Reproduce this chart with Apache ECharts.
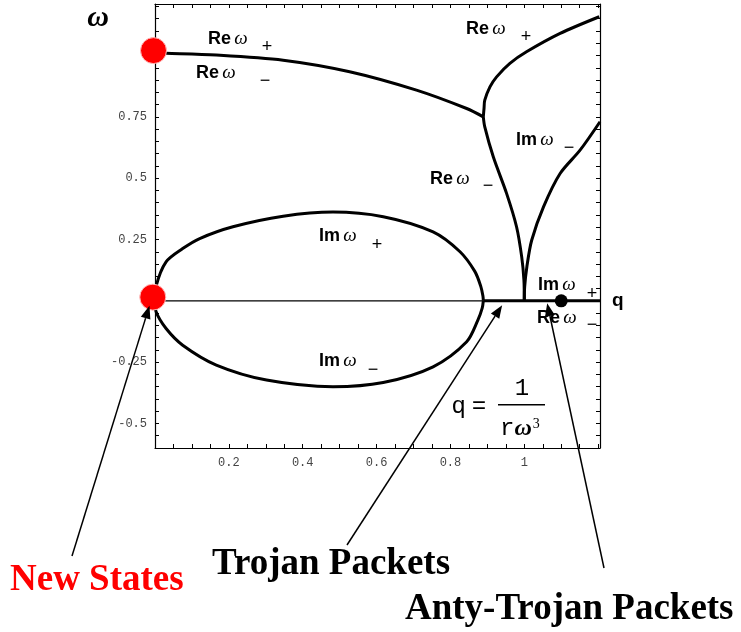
<!DOCTYPE html>
<html>
<head>
<meta charset="utf-8">
<script src="https://cdn.jsdelivr.net/npm/echarts@6/dist/echarts.min.js"></script>
<style>
html, body { margin: 0; padding: 0; background: #fff; }
#chart { width: 741px; height: 632px; }
</style>
</head>
<body>
<div id="chart"></div>
<script>
// Re omega, both roots equal below the bifurcation at q = 8/9
const reShared = [[0, 1.01], [0.03, 1.009], [0.166, 1.002], [0.347, 0.981], [0.527, 0.934], [0.708, 0.859], [0.844, 0.784], [0.889, 0.75]];
const rePlus = [[0.889, 0.75], [0.891, 0.785], [0.893, 0.818], [0.907, 0.872], [0.925, 0.913], [0.961, 0.968], [1.006, 1.015], [1.097, 1.09], [1.203, 1.158]];
const reMinus = [[0.889, 0.75], [0.893, 0.709], [0.916, 0.587], [0.952, 0.438], [0.979, 0.302], [0.993, 0.179], [0.999, 0.084], [1.0, 0]];
const imMinusRight = [[1.0, 0], [1.001, 0.057], [1.007, 0.139], [1.02, 0.247], [1.052, 0.383], [1.097, 0.519], [1.151, 0.614], [1.205, 0.73]];
const imPlusLoop = [[0, 0], [0.003, 0.06], [0.03, 0.159], [0.075, 0.213], [0.121, 0.254], [0.211, 0.302], [0.347, 0.345], [0.482, 0.362], [0.618, 0.343], [0.753, 0.281], [0.826, 0.2], [0.866, 0.12], [0.882, 0.06], [0.888, 0.02], [0.889, 0]];
const imMinusLoop = [[0, 0], [0.003, -0.045], [0.03, -0.113], [0.075, -0.181], [0.166, -0.262], [0.302, -0.323], [0.482, -0.35], [0.618, -0.333], [0.753, -0.269], [0.844, -0.167], [0.874, -0.08], [0.886, -0.03], [0.889, 0]];
const zeroThin = [[0, 0], [0.889, 0]];
const zeroThick = [[0.889, 0], [1.205, 0]];
const newStates = [[-0.004, 1.02], [-0.006, 0.015]];
const antiTrojan = [[1.1, 0]];
const xTickLabels = [0.2, 0.4, 0.6, 0.8, 1];
const yTickLabels = [-0.5, -0.25, 0.25, 0.5, 0.75];

const chart = echarts.init(document.getElementById('chart'));

function pickLabel(list) {
    return function (v) {
        for (const t of list) {
            if (Math.abs(v - t) < 1e-6) return String(t);
        }
        return '';
    };
}

const tickFont = { fontFamily: 'Liberation Mono', fontSize: 12, color: '#444' };
const frameLine = { show: true, onZero: false, lineStyle: { color: '#000', width: 1.2 } };
const innerTick = { show: true, inside: true, length: 4, lineStyle: { color: '#000' } };

function curve(data, width) {
    return {
        type: 'line', data: data, showSymbol: false, smooth: 0.3,
        lineStyle: { color: '#000', width: width || 3 }, z: 3, silent: true
    };
}

const option = {
    animation: false,
    grid: { left: 155, right: 141, top: 4, bottom: 184 },
    xAxis: [
        {
            type: 'value', min: 0, max: 1.205, interval: 0.05, position: 'bottom',
            axisLine: frameLine, axisTick: innerTick, splitLine: { show: false },
            axisLabel: Object.assign({ margin: 9, formatter: pickLabel(xTickLabels) }, tickFont)
        },
        {
            type: 'value', min: 0, max: 1.205, interval: 0.05, position: 'top',
            axisLine: frameLine, axisTick: innerTick, splitLine: { show: false },
            axisLabel: { show: false }
        }
    ],
    yAxis: [
        {
            type: 'value', min: -0.6, max: 1.21, interval: 0.05, position: 'left',
            axisLine: frameLine, axisTick: innerTick, splitLine: { show: false },
            axisLabel: Object.assign({ margin: 8, formatter: pickLabel(yTickLabels) }, tickFont)
        },
        {
            type: 'value', min: -0.6, max: 1.21, interval: 0.05, position: 'right',
            axisLine: frameLine, axisTick: innerTick, splitLine: { show: false },
            axisLabel: { show: false }
        }
    ],
    series: [
        curve(zeroThin, 1.3),
        curve(zeroThick, 3),
        curve(reShared),
        curve(rePlus),
        curve(reMinus),
        curve(imMinusRight),
        curve(imPlusLoop),
        curve(imMinusLoop),
        {
            type: 'scatter', data: antiTrojan, symbolSize: 13, clip: false, z: 5,
            itemStyle: { color: '#000', opacity: 1 }
        },
        {
            type: 'scatter', data: newStates, symbolSize: 26, clip: false, z: 6,
            itemStyle: { color: '#ff0000', opacity: 1, borderColor: '#ffb8b8', borderWidth: 1 }
        }
    ]
};
option && chart.setOption(option);

/* annotations */
const rich = {
    b: { fontFamily: 'Liberation Sans', fontWeight: 'bold', fontSize: 18, fill: '#000' },
    w: { fontFamily: 'Liberation Serif', fontStyle: 'italic', fontSize: 19, fill: '#000' }
};

function omegaLabel(part, x, y, sign, sx, sy) {
    return [
        { type: 'text', z: 10, style: { x: x, y: y, text: '{b|' + part + '} {w|ω}', rich: rich, verticalAlign: 'middle' } },
        { type: 'text', z: 10, style: { x: sx, y: sy, text: sign, fontFamily: 'Liberation Sans', fontSize: 18, fill: '#000', align: 'center', verticalAlign: 'middle' } }
    ];
}

function arrow(tail, tipData) {
    const tip = chart.convertToPixel({ gridIndex: 0 }, tipData);
    const dx = tip[0] - tail[0], dy = tip[1] - tail[1];
    const len = Math.sqrt(dx * dx + dy * dy);
    const ux = dx / len, uy = dy / len;
    const head = 13, half = 5;
    const bx = tip[0] - ux * head, by = tip[1] - uy * head;
    return [
        { type: 'line', z: 9, shape: { x1: tail[0], y1: tail[1], x2: bx, y2: by }, style: { stroke: '#000', lineWidth: 1.5 } },
        { type: 'polygon', z: 9, shape: { points: [[tip[0], tip[1]], [bx - uy * half, by + ux * half], [bx + uy * half, by - ux * half]] }, style: { fill: '#000' } }
    ];
}

const big = { fontFamily: 'Liberation Serif', fontWeight: 'bold', fontSize: 37, verticalAlign: 'middle' };

const graphic = [].concat(
    omegaLabel('Re', 208, 39, '+', 267, 47),
    omegaLabel('Re', 196, 73, '−', 265, 81),
    omegaLabel('Re', 466, 29, '+', 526, 37),
    omegaLabel('Im', 516, 140, '−', 569, 148),
    omegaLabel('Re', 430, 179, '−', 488, 186),
    omegaLabel('Im', 319, 236, '+', 377, 245),
    omegaLabel('Im', 319, 361, '−', 373, 370),
    omegaLabel('Im', 538, 285, '+', 592, 294),
    omegaLabel('Re', 537, 318, '−', 592, 325),
    arrow([72, 556], [-0.015, -0.02]),
    arrow([347, 545], [0.94, -0.018]),
    arrow([604, 568], [1.062, -0.01]),
    [
        { type: 'text', z: 10, style: { x: 612, y: 301, text: 'q', fontFamily: 'Liberation Sans', fontWeight: 'bold', fontSize: 19, fill: '#000', verticalAlign: 'middle' } },
        { type: 'text', z: 10, style: { x: 98, y: 18, text: 'ω', fontFamily: 'Liberation Serif', fontStyle: 'italic', fontWeight: 'bold', fontSize: 30, fill: '#000', align: 'center', verticalAlign: 'middle' } },
        { type: 'text', z: 10, style: { x: 452, y: 406, text: 'q =', fontFamily: 'Liberation Sans', fontSize: 24, fill: '#000', verticalAlign: 'middle' } },
        { type: 'text', z: 10, style: { x: 522, y: 389, text: '1', fontFamily: 'Liberation Mono', fontSize: 24, fill: '#000', align: 'center', verticalAlign: 'middle' } },
        { type: 'rect', z: 10, shape: { x: 498, y: 404, width: 47, height: 1.6 }, style: { fill: '#000' } },
        { type: 'text', z: 10, style: { x: 500, y: 429, text: '{m|r}{w|ω}{s|3}', verticalAlign: 'middle', rich: {
            m: { fontFamily: 'Liberation Mono', fontSize: 24, fill: '#000' },
            w: { fontFamily: 'Liberation Serif', fontStyle: 'italic', fontWeight: 'bold', fontSize: 24, fill: '#000' },
            s: { fontFamily: 'Liberation Serif', fontSize: 14, fill: '#000', padding: [0, 0, 10, 1] }
        } } },
        { type: 'text', z: 10, style: Object.assign({ x: 10, y: 580, text: 'New States', fill: '#ff0000' }, big) },
        { type: 'text', z: 10, style: Object.assign({ x: 212, y: 564, text: 'Trojan Packets', fill: '#000' }, big) },
        { type: 'text', z: 10, style: Object.assign({ x: 405, y: 609, text: 'Anty-Trojan Packets', fill: '#000' }, big) }
    ]
);

chart.setOption({ graphic: graphic });
</script>
</body>
</html>
